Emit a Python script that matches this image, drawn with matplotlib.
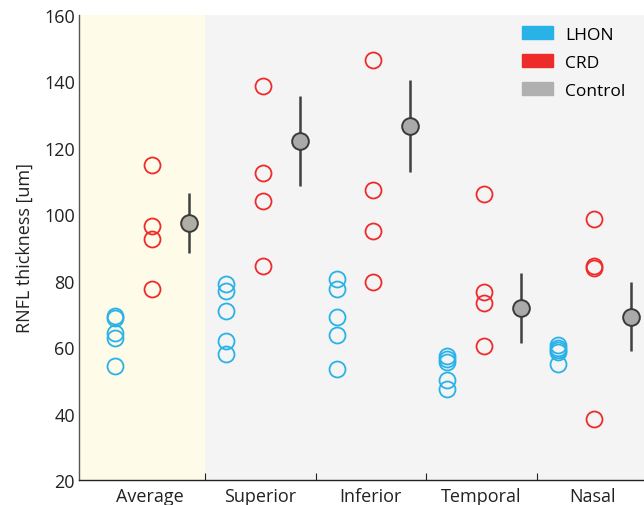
import matplotlib
matplotlib.use("Agg")
import matplotlib.pyplot as plt
from matplotlib.patches import Patch
import numpy as np

plt.rcParams['font.family'] = ['Open Sans', 'DejaVu Sans']

categories = ["Average", "Superior", "Inferior", "Temporal", "Nasal"]

lhon = [
    [69.5, 68.7, 64.2, 62.9, 54.4],
    [79.0, 77.0, 71.0, 61.9, 57.9],
    [80.5, 77.5, 69.0, 63.6, 53.4],
    [57.2, 56.4, 55.6, 50.1, 47.4],
    [60.5, 59.8, 59.0, 58.4, 54.9],
]
crd = [
    [114.9, 96.4, 92.6, 77.5],
    [138.5, 112.5, 104.1, 84.5],
    [146.6, 107.4, 95.0, 79.5],
    [106.0, 76.5, 73.3, 60.4],
    [98.6, 84.3, 83.8, 38.3],
]
control_mean = [97.4, 122.1, 126.5, 71.7, 69.2]
control_sd = [9.0, 13.5, 13.8, 10.5, 10.4]

yticks = [20, 40, 60, 80, 100, 120, 140, 160]

c_lhon = "#29b2e8"
c_crd = "#ee2b2b"
c_ctrl = "#b0b0b0"
bg_avg = "#fefbe8"
bg_rest = "#f4f4f4"

fig = plt.figure(figsize=(6.44, 5.06), dpi=100)
ax = fig.add_axes([79/644, 1-481/506, 1-79/644, 465/506])

xl, xr = 0.36, 5.47
ax.set_xlim(xl, xr)
ax.set_ylim(20, 160)
ax.axvspan(xl, 1.5, color=bg_avg, zorder=0, lw=0)
ax.axvspan(1.5, xr, color=bg_rest, zorder=0, lw=0)

pos = np.arange(1, len(categories) + 1)
off_l, off_c, off_k = -0.31, 0.02, 0.355
for i, p in enumerate(pos):
    ax.plot([p + off_l] * len(lhon[i]), lhon[i], 'o', ms=11.5, mfc='none',
            mec=c_lhon, mew=1.3, zorder=3)
    ax.plot([p + off_c] * len(crd[i]), crd[i], 'o', ms=11.5, mfc='none',
            mec=c_crd, mew=1.3, zorder=3)
    ax.errorbar(p + off_k, control_mean[i], yerr=control_sd[i], fmt='none',
                ecolor='#404040', elinewidth=1.8, capsize=0, zorder=4)
    bg = bg_avg if i == 0 else bg_rest
    ax.plot(p + off_k, control_mean[i], 'o', ms=12, mfc=bg,
            mec='none', zorder=5)
    ax.plot(p + off_k, control_mean[i], 'o', ms=12, mfc=(0.43, 0.43, 0.43, 0.55),
            mec='#3a3a3a', mew=1.4, zorder=6)

ax.set_yticks(yticks)
ax.tick_params(axis='y', length=0, labelsize=13, colors='#222222', pad=3)
ax.set_xticks([1.5, 2.5, 3.5, 4.5])
ax.set_xticklabels([])
ax.tick_params(axis='x', which='major', direction='in', length=5, color='#222222')
ax.set_xticks(pos, minor=True)
ax.set_xticklabels(categories, minor=True)
ax.tick_params(axis='x', which='minor', length=0, labelsize=13, colors='#222222', pad=5)

for s in ['top', 'right']:
    ax.spines[s].set_visible(False)
ax.spines['left'].set_color('#555555')
ax.spines['bottom'].set_color('#222222')
ax.spines['left'].set_linewidth(1.0)
ax.spines['bottom'].set_linewidth(1.0)

ax.set_ylabel("RNFL thickness [um]", fontsize=13, color='#222222', labelpad=7)

handles = [Patch(color=c_lhon, label="LHON"), Patch(color=c_crd, label="CRD"),
           Patch(color=c_ctrl, label="Control")]
ax.legend(handles=handles, loc='upper right', frameon=False, fontsize=12.5,
          handlelength=1.8, handleheight=0.8, labelspacing=0.65,
          bbox_to_anchor=(0.995, 1.01), handletextpad=0.7)

fig.savefig("out.png", dpi=100)
